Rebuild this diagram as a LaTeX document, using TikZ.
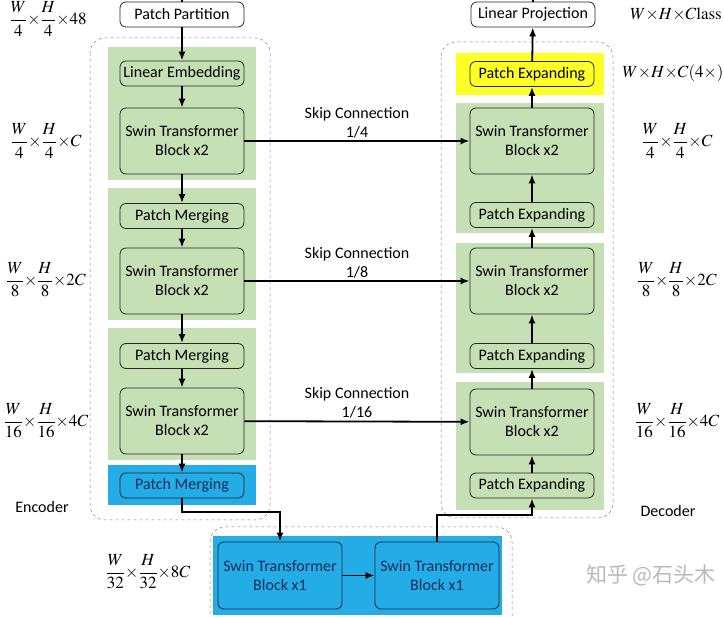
\documentclass[tikz,border=0pt]{standalone}
\usepackage{amsmath}
\usepackage{mathptmx}
\usepackage[no-math]{fontspec}
\setmainfont{Carlito}
\newfontfamily\cjk{Noto Sans CJK SC}
\usetikzlibrary{arrows.meta, positioning}

\definecolor{bandgreen}{RGB}{197,224,180}
\definecolor{bandblue}{RGB}{35,172,230}
\definecolor{bandyellow}{RGB}{255,255,40}
\definecolor{navytext}{RGB}{25,45,90}
\newcommand{\bytimes}{\mkern-2.5mu\times\mkern-2.5mu}

\begin{document}
\begin{tikzpicture}[x=1pt,y=-1pt,
  box/.style={draw=black!85, line width=0.8pt, rounded corners=6pt, minimum width=124pt, align=center,
    font=\fontsize{16}{19}\selectfont, inner sep=0pt},
  thinbox/.style={box, minimum height=25pt, fill=bandgreen},
  tallbox/.style={box, minimum height=66pt, fill=bandgreen},
  bluebox/.style={fill=bandblue, text=navytext},
  flow/.style={-{Latex[length=9pt,width=7pt]}, line width=1.8pt},
  frame/.style={draw=gray, dashed, rounded corners=15pt, line width=0.5pt},
  dim/.style={font=\fontsize{17}{19}\selectfont, inner sep=1pt},
  side/.style={font=\fontsize{16}{19}\selectfont}]

\useasboundingbox (0,0) rectangle (724,617);

% dashed frames
\draw[frame] (90,38) rectangle (270,520);
\draw[frame] (441,42) rectangle (613,518);
\draw[frame] (210,620) -- (210,527) -- (512,527) -- (512,620);

% coloured bands
\fill[bandgreen] (108,47) rectangle (256,180);
\fill[bandgreen] (108,188) rectangle (256,320);
\fill[bandgreen] (108,328) rectangle (256,460);
\fill[bandblue] (108,465) rectangle (256,505);
\fill[bandyellow] (456,53) rectangle (604,95);
\fill[bandgreen] (456,103) rectangle (604,233);
\fill[bandgreen] (456,243) rectangle (604,373);
\fill[bandgreen] (456,382) rectangle (604,510);
\fill[bandblue] (213,536) rectangle (502,615);

% encoder
\node[thinbox, fill=white] (part) at (182,14.5) {Patch Partition};
\node[thinbox] (embed) at (182,73.5) {Linear Embedding};
\node[tallbox] (enc1) at (182,141) {Swin Transformer\\Block x2};
\node[thinbox] (merge1) at (182,216) {Patch Merging};
\node[tallbox] (enc2) at (182,281) {Swin Transformer\\Block x2};
\node[thinbox] (merge2) at (182,356) {Patch Merging};
\node[tallbox] (enc3) at (182,421) {Swin Transformer\\Block x2};
\node[thinbox, bluebox] (merge3) at (182,485.5) {Patch Merging};

% bottleneck
\node[tallbox, bluebox, minimum height=67pt] (bot1) at (280,575.5) {Swin Transformer\\Block x1};
\node[tallbox, bluebox, minimum height=67pt] (bot2) at (437,575.5) {Swin Transformer\\Block x1};

% decoder
\node[thinbox, fill=white] (proj) at (533,14.5) {Linear Projection};
\node[thinbox, fill=bandyellow] (expand0) at (532,74) {Patch Expanding};
\node[tallbox] (dec1) at (532,141) {Swin Transformer\\Block x2};
\node[thinbox] (expand1) at (532,215) {Patch Expanding};
\node[tallbox] (dec2) at (532,281) {Swin Transformer\\Block x2};
\node[thinbox] (expand2) at (532,356) {Patch Expanding};
\node[tallbox] (dec3) at (532,422) {Swin Transformer\\Block x2};
\node[thinbox] (expand3) at (532,485.5) {Patch Expanding};

\coordinate (inflow) at (182,0);
\coordinate (outflow) at (533,0);
\coordinate (turn1) at (182,512);
\coordinate (turn2) at (437,515);

% arrows
\draw[line width=1.8pt] (inflow) -- (part);
\foreach \a/\b in {part/embed, embed/enc1, enc1/merge1, merge1/enc2, enc2/merge2,
    merge2/enc3, enc3/merge3, bot1/bot2, expand3/dec3, dec3/expand2, expand2/dec2,
    dec2/expand1, expand1/dec1, dec1/expand0, expand0/proj}
  \draw[flow] (\a) -- (\b);
\draw[line width=1.8pt] (proj) -- (outflow);
\draw[flow] (merge3) -- (turn1) -| (bot1);
\draw[flow] (bot2) -- (turn2) -| (expand3);

% skip connections
\draw[flow] (enc1) -- node[above, align=center, side, inner sep=2pt] {Skip Connection\\1/4} (dec1);
\draw[flow] (enc2) -- node[above, align=center, side, inner sep=2pt] {Skip Connection\\1/8} (dec2);
\draw[flow] (enc3) -- node[above, align=center, side, inner sep=2pt] {Skip Connection\\1/16} (dec3);

% sizes
\node[dim] (s48) at (48,19) {$\dfrac{W}{4}\bytimes\dfrac{H}{4}\bytimes 48$};
\node[dim] (s1) at (46,141) {$\dfrac{W}{4}\bytimes\dfrac{H}{4}\bytimes C$};
\node[dim] (s2) at (46,280) {$\dfrac{W}{8}\bytimes\dfrac{H}{8}\bytimes 2C$};
\node[dim] (s3) at (46,421) {$\dfrac{W}{16}\bytimes\dfrac{H}{16}\bytimes 4C$};
\node[dim] (s4) at (148,572) {$\dfrac{W}{32}\bytimes\dfrac{H}{32}\bytimes 8C$};
\node[dim] (sc) at (676,14) {$W\bytimes H\bytimes C\mathrm{lass}$};
\node[dim] (s0) at (673,73) {$W\bytimes H\bytimes C(4\times)$};
\node[dim] (t1) at (677,141) {$\dfrac{W}{4}\bytimes\dfrac{H}{4}\bytimes C$};
\node[dim] (t2) at (677,280) {$\dfrac{W}{8}\bytimes\dfrac{H}{8}\bytimes 2C$};
\node[dim] (t3) at (677,421) {$\dfrac{W}{16}\bytimes\dfrac{H}{16}\bytimes 4C$};

\node[side] (enclabel) at (42,507) {Encoder};
\node[side] (declabel) at (668,511) {Decoder};
\node[font=\cjk\fontsize{21}{24}\selectfont, text=gray!55] (mark) at (651,575) {知乎 @石头木};
\end{tikzpicture}
\end{document}
